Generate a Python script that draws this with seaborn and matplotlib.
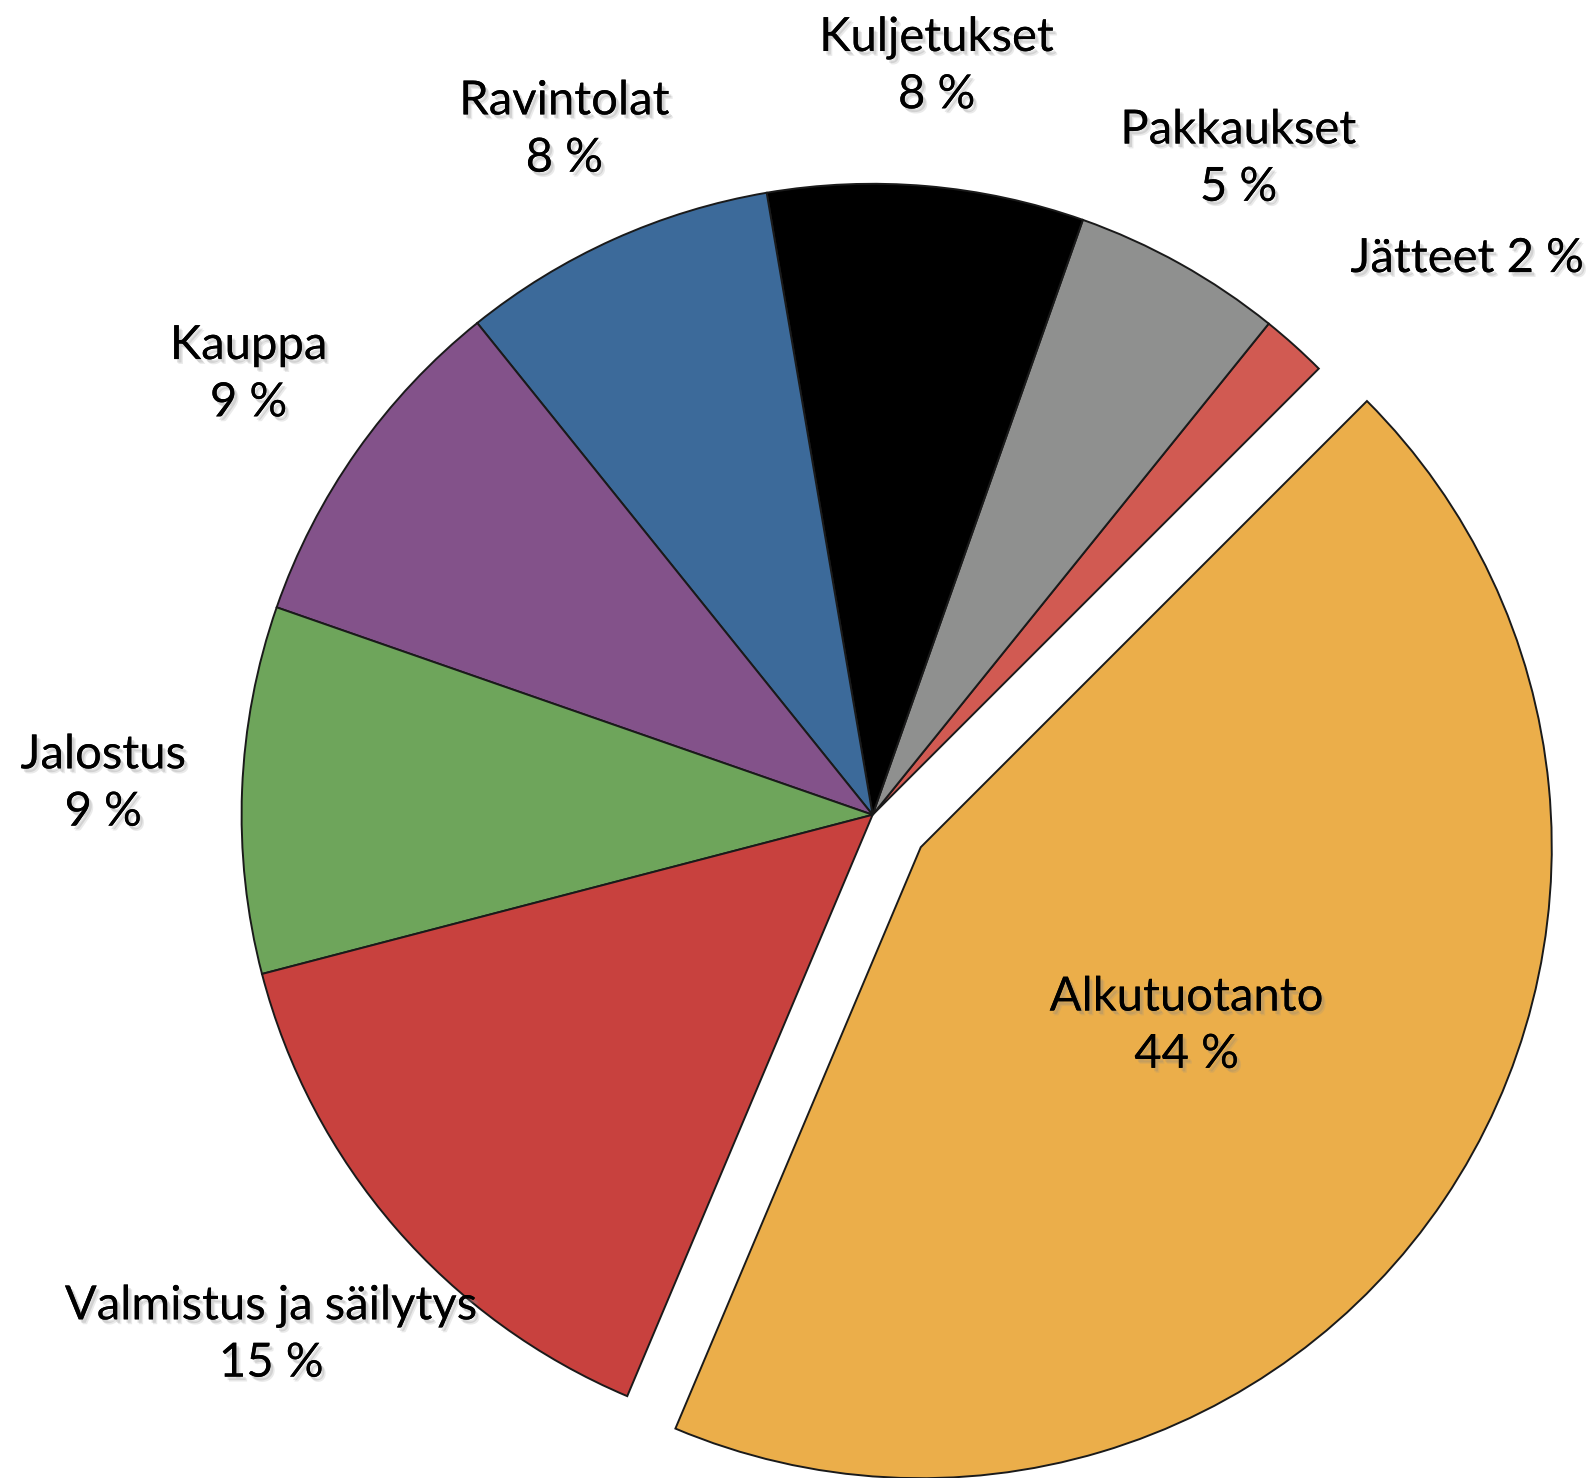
import matplotlib
matplotlib.use("Agg")
import numpy as np
import matplotlib.pyplot as plt
import matplotlib.patheffects as pe
import seaborn as sns

# sector shares (%), counter-clockwise from the Jätteet wedge
sectors = ["Jätteet", "Pakkaukset", "Kuljetukset", "Ravintolat", "Kauppa",
           "Jalostus", "Valmistus ja säilytys", "Alkutuotanto"]
shares = [1.7, 5.4, 8.1, 8.1, 8.9, 9.4, 14.6, 43.9]
colors = ["#D15A52", "#8F908F", "#000000", "#3C6A9A", "#83528A",
          "#6EA55B", "#C8413E", "#EBAE4A"]

# label layout: (distance from centre in radii, angle shift in degrees, single line?)
label_layout = {
    "Jätteet": (1.29, -5.0, True),
    "Pakkaukset": (1.19, 0.0, False),
    "Kuljetukset": (1.19, 0.0, False),
    "Ravintolat": (1.19, 0.0, False),
    "Kauppa": (1.21, 0.0, False),
    "Jalostus": (1.22, 0.0, False),
    "Valmistus ja säilytys": (1.26, 0.0, False),
    "Alkutuotanto": (0.60, 0.0, False),
}
EXPLODE = 0.092

sns.set_theme(style="white")
plt.rcParams["font.family"] = ["Lato", "DejaVu Sans"]

W, H = 1591, 1478
fig = plt.figure(figsize=(W / 100, H / 100), dpi=100)
ax = fig.add_axes([0, 0, 1, 1])

explode = [EXPLODE if s == "Alkutuotanto" else 0 for s in sectors]
wedges, _ = ax.pie(
    shares,
    colors=colors,
    explode=explode,
    startangle=45,
    counterclock=True,
    radius=1.0,
    wedgeprops=dict(edgecolor="#1a1a1a", linewidth=1.4),
)

# soft drop shadow: a couple of faint offset copies under the text
shadow = [
    pe.withSimplePatchShadow(offset=(3, -3.5), shadow_rgbFace="0.55", alpha=0.18),
    pe.withSimplePatchShadow(offset=(2, -2.5), shadow_rgbFace="0.5", alpha=0.22),
]
for w, name, val in zip(wedges, sectors, shares):
    dist, shift, single = label_layout[name]
    mid = np.deg2rad((w.theta1 + w.theta2) / 2 + shift)
    pct = f"{round(val)} %"
    txt = f"{name} {pct}" if single else f"{name}\n{pct}"
    ax.text(dist * np.cos(mid), dist * np.sin(mid), txt,
            ha="center", va="center", fontsize=34, color="black",
            linespacing=1.45, path_effects=shadow)

# centre sits at (872, 815) px in the reference, radius ~631 px
px = 631.0
cx, cy = 872.6, 814.8
ax.set_xlim(-cx / px, (W - cx) / px)
ax.set_ylim(-(H - cy) / px, cy / px)
ax.set_aspect("equal")
ax.axis("off")

fig.savefig("out.png", dpi=100, facecolor="white")
